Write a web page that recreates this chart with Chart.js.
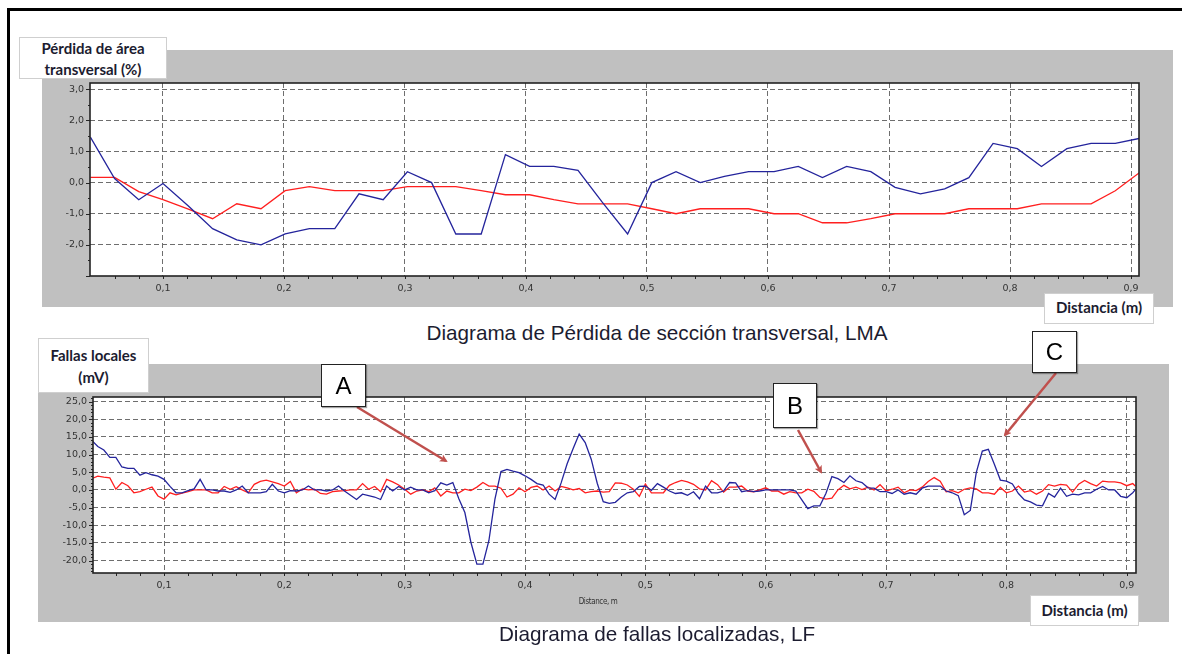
<!DOCTYPE html>
<html>
<head>
<meta charset="utf-8">
<script src="https://cdn.jsdelivr.net/npm/chart.js@4.4.1/dist/chart.umd.min.js"></script>
<style>
  html,body{margin:0;padding:0;background:#fff;}
  body{width:1187px;height:654px;position:relative;overflow:hidden;font-family:"Liberation Sans",Arial,sans-serif;}
  .abs{position:absolute;}
  canvas{position:absolute;}
  .lbl{position:absolute;background:#fff;border:1px solid #cfcfcf;box-sizing:border-box;color:#1c1c30;
       font-family:Lato,"Open Sans",sans-serif;font-weight:700;font-size:15px;text-align:center;z-index:5;white-space:nowrap;}
  .cap{position:absolute;color:#1c1c30;font-family:"Liberation Sans",Arial,sans-serif;font-size:20.7px;line-height:24px;white-space:nowrap;transform:translateX(-50%);z-index:5;}
  .mk{position:absolute;background:#fff;border:1.5px solid #222;box-sizing:border-box;font-family:"Liberation Sans",Arial,sans-serif;
      font-size:24px;text-align:center;z-index:7;box-shadow:1px 1px 1px rgba(0,0,0,0.35);}
</style>
</head>
<body>
<div class="abs" style="left:8px;top:8px;width:1174px;height:3px;background:#000;"></div>
<div class="abs" style="left:7px;top:8px;width:3px;height:646px;background:#000;"></div>

<canvas id="c1" width="1131" height="257" style="left:42px;top:50px;"></canvas>
<canvas id="c2" width="1131" height="258" style="left:38px;top:364px;"></canvas>

<div class="lbl" style="left:19px;top:37px;width:148px;height:42px;line-height:21px;padding-top:0px;">Pérdida de área<br>transversal (%)</div>
<div class="lbl" style="left:1044px;top:293px;width:110px;height:31px;line-height:26px;">Distancia (m)</div>
<div class="cap" style="left:657px;top:321px;">Diagrama de Pérdida de sección transversal, LMA</div>

<div class="lbl" style="left:38px;top:338px;width:111px;height:55px;line-height:22px;padding-top:5px;">Fallas locales<br>(mV)</div>
<div class="lbl" style="left:1030px;top:595px;width:109px;height:31px;line-height:28px;">Distancia (m)</div>
<div class="abs" style="left:598px;top:597px;transform:translateX(-50%);font-family:'DejaVu Sans Condensed','DejaVu Sans',sans-serif;font-size:8px;letter-spacing:-0.4px;color:#333;z-index:5;white-space:nowrap;">Distance, m</div>
<div class="cap" style="left:657px;top:622px;">Diagrama de fallas localizadas, LF</div>

<svg class="abs" style="left:0;top:0;z-index:6;" width="1187" height="654">
  <defs>
    <marker id="ah" markerWidth="8" markerHeight="8" refX="6" refY="4" orient="auto" markerUnits="userSpaceOnUse">
      <path d="M0,0 L8,4 L0,8 L2,4 z" fill="#c0504d"/>
    </marker>
  </defs>
  <g stroke="#c0504d" stroke-width="2.5" fill="none">
    <line x1="357" y1="407" x2="446" y2="461" marker-end="url(#ah)"/>
    <line x1="798" y1="430" x2="821" y2="472" marker-end="url(#ah)"/>
    <line x1="1056" y1="373" x2="1005" y2="435" marker-end="url(#ah)"/>
  </g>
</svg>
<div class="mk" style="left:321px;top:364px;width:45px;height:43px;line-height:41px;">A</div>
<div class="mk" style="left:773px;top:383px;width:44px;height:45px;line-height:43px;">B</div>
<div class="mk" style="left:1032px;top:331px;width:45px;height:42px;line-height:40px;">C</div>

<script>
// ---------- Top chart data (LMA) ----------
const topX = [0.040,0.060,0.080,0.100,0.121,0.141,0.161,0.181,0.201,0.221,0.242,0.262,0.282,0.302,0.322,0.342,0.363,0.383,0.403,0.423,0.443,0.463,0.484,0.504,0.524,0.544,0.564,0.584,0.605,0.625,0.645,0.665,0.685,0.705,0.726,0.746,0.766,0.786,0.806,0.826,0.847,0.867,0.887,0.907];
const topBlue = [1.46,0.13,-0.55,-0.03,-0.75,-1.48,-1.84,-2.0,-1.65,-1.48,-1.48,-0.36,-0.55,0.35,0.0,-1.65,-1.65,0.9,0.52,0.52,0.39,-0.63,-1.65,0.0,0.35,0.0,0.2,0.35,0.35,0.52,0.16,0.52,0.35,-0.15,-0.36,-0.2,0.16,1.26,1.09,0.52,1.09,1.26,1.26,1.42];
const topRed = [0.17,0.17,-0.29,-0.55,-0.85,-1.16,-0.68,-0.84,-0.26,-0.13,-0.26,-0.26,-0.26,-0.13,-0.13,-0.13,-0.26,-0.39,-0.39,-0.55,-0.68,-0.68,-0.68,-0.84,-1.0,-0.84,-0.84,-0.84,-1.0,-1.0,-1.29,-1.29,-1.16,-1.0,-1.0,-1.0,-0.84,-0.84,-0.84,-0.68,-0.68,-0.68,-0.26,0.32];
const topXTicks = [0.1,0.2,0.3,0.4,0.5,0.6,0.7,0.8,0.9];
const topYTicks = [-2,-1,0,1,2,3];

// ---------- Bottom chart data (LF) ----------
const botX = [0.040,0.045,0.050,0.055,0.060,0.065,0.070,0.075,0.080,0.085,
0.090,0.095,0.100,0.105,0.110,0.115,0.120,0.125,0.130,0.135,
0.140,0.145,0.150,0.155,0.160,0.165,0.170,0.175,0.180,0.185,
0.190,0.195,0.200,0.205,0.210,0.215,0.220,0.225,0.230,0.235,
0.240,0.245,0.250,0.255,0.260,0.265,0.270,0.275,0.280,0.285,
0.290,0.295,0.300,0.305,0.310,0.315,0.320,0.325,0.330,0.335,
0.340,0.345,0.350,0.355,0.360,0.365,0.370,0.375,0.380,0.385,
0.390,0.395,0.400,0.405,0.410,0.415,0.420,0.425,0.430,0.435,
0.440,0.445,0.450,0.455,0.460,0.465,0.470,0.475,0.480,0.485,
0.490,0.495,0.500,0.505,0.510,0.515,0.520,0.525,0.530,0.535,
0.540,0.545,0.550,0.555,0.560,0.565,0.570,0.575,0.580,0.585,
0.590,0.595,0.600,0.605,0.610,0.615,0.620,0.625,0.630,0.635,
0.640,0.645,0.650,0.655,0.660,0.665,0.670,0.675,0.680,0.685,
0.690,0.695,0.700,0.705,0.710,0.715,0.720,0.725,0.730,0.735,
0.740,0.745,0.750,0.755,0.760,0.765,0.770,0.775,0.780,0.785,
0.790,0.795,0.800,0.805,0.810,0.815,0.820,0.825,0.830,0.835,
0.840,0.845,0.850,0.855,0.860,0.865,0.870,0.875,0.880,0.885,
0.890,0.895,0.900,0.905,0.907];
const botBlue = [14.0,12.3,11.3,9.2,9.2,6.5,6.1,6.1,4.2,4.9,
4.3,3.9,3.0,1.0,-0.8,-0.8,-0.2,0.3,3.0,0.0,
0.0,-0.3,-0.3,-0.7,0.0,1.1,-0.8,-0.8,-0.8,-0.5,
1.6,-0.3,-0.8,-0.2,-0.3,0.0,1.1,0.0,0.0,-0.3,
0.0,1.1,-0.3,-1.5,-2.7,-1.2,-1.6,-2.0,-2.7,1.1,
-0.3,1.0,0.0,0.8,0.0,0.0,-0.8,-0.2,2.0,1.4,
2.1,-2.5,-6.4,-14.8,-21.0,-21.0,-14.3,-2.6,5.2,5.8,
5.3,4.9,4.0,3.0,1.8,1.4,-1.2,-2.7,2.0,7.4,
11.7,15.8,13.4,8.7,1.9,-3.3,-3.8,-3.5,-2.0,-0.8,
-0.5,1.0,1.1,-0.1,1.8,0.8,-0.3,-1.0,-0.8,-1.5,
-0.5,-2.5,1.1,-0.8,-0.8,-0.3,2.1,2.0,-0.5,-0.2,
-0.5,-0.3,0.0,0.0,0.0,0.0,0.0,-0.3,-2.8,-5.3,
-4.5,-4.5,-1.0,3.8,3.2,2.1,4.0,2.6,2.1,0.6,
0.5,-0.5,-0.5,-1.0,0.0,-1.2,-0.8,-1.2,0.5,1.1,
1.1,1.1,-0.3,-0.8,-1.6,-7.0,-5.8,5.0,11.0,11.5,
7.3,2.8,2.5,1.7,-1.0,-2.8,-3.4,-4.3,-4.5,-1.0,
-2.0,0.5,-1.8,-1.2,-1.4,-0.8,-0.8,0.2,1.0,0.0,
0.0,-1.8,-2.2,-0.8,0.0];
const botRed = [3.2,3.9,3.6,3.4,0.2,2.1,1.2,-0.8,-0.5,0.2,
0.8,-1.7,-2.6,-0.8,-1.4,-0.9,-0.5,0.0,0.0,0.0,
-0.8,-0.8,1.0,0.2,0.9,0.0,-0.8,1.6,2.4,2.8,
2.3,1.8,1.1,2.4,-0.8,0.3,0.0,0.2,-1.0,-1.2,
-0.5,-0.3,-0.2,0.0,0.0,1.8,0.2,1.0,-0.5,3.0,
2.3,1.4,0.2,-1.2,-0.3,0.0,-0.5,0.6,-1.7,-0.3,
-0.8,-0.8,0.2,-0.2,0.8,2.1,1.1,1.1,0.5,-2.0,
-1.2,0.6,-0.5,0.7,1.1,0.0,1.1,-0.3,1.0,0.6,
0.0,0.4,-0.8,-0.5,-0.3,-0.6,-0.5,2.0,1.9,1.4,
0.2,-1.8,1.7,-0.8,-0.8,-0.8,1.3,2.1,2.7,2.3,
1.6,0.3,0.0,2.6,1.5,-0.6,0.8,0.8,1.1,-0.3,
-0.5,0.0,0.6,-0.3,-0.3,-1.2,-0.5,-0.8,-0.8,0.2,
-0.4,-2.1,-2.6,-2.3,0.0,1.3,0.3,0.8,0.1,0.8,
0.0,1.5,-0.3,0.2,0.8,-0.8,0.0,-0.2,0.8,2.4,
3.5,2.5,-0.5,-0.2,-0.8,0.2,0.6,0.3,-0.8,-0.8,
-1.2,0.7,-0.8,-0.3,1.1,-0.6,-0.2,-1.2,-0.3,1.5,
1.1,1.6,1.4,-0.6,1.6,2.7,1.8,1.1,2.5,2.3,
2.3,2.0,1.2,1.8,1.1];
const botXTicks = [0.1,0.2,0.3,0.4,0.5,0.6,0.7,0.8,0.9];
const botYTicks = [-20,-15,-10,-5,0,5,10,15,20,25];

const BLUE = '#24249c', RED = '#ff1f1f';

const framePlugin = {
  id: 'frame',
  beforeDraw(chart) {
    const {ctx, chartArea: a} = chart;
    ctx.save();
    ctx.fillStyle = '#c0c0c0';
    ctx.fillRect(0, 0, chart.width, chart.height);
    ctx.fillStyle = '#ffffff';
    ctx.fillRect(a.left, a.top, a.right - a.left, a.bottom - a.top);
    ctx.restore();
  },
  afterDraw(chart, args, o) {
    const {ctx, chartArea: a, scales} = chart;
    ctx.save();
    ctx.strokeStyle = '#262626';
    ctx.lineWidth = 1;
    ctx.beginPath();
    const xs = scales.x;
    for (let i = 0; ; i++) {
      const v = o.xStart + i * o.xStep;
      if (v > xs.max + 1e-9) break;
      const p = Math.round(xs.getPixelForValue(v)) + 0.5;
      ctx.moveTo(p, a.bottom); ctx.lineTo(p, a.bottom + 3);
    }
    const ys = scales.y;
    for (let i = 0; ; i++) {
      const v = o.yStart + i * o.yStep;
      if (v > ys.max + 1e-9) break;
      const p = Math.round(ys.getPixelForValue(v)) + 0.5;
      const major = Math.abs(v / o.yMajor - Math.round(v / o.yMajor)) < 1e-6;
      ctx.moveTo(a.left, p); ctx.lineTo(a.left - (major ? 4 : 2), p);
    }
    ctx.stroke();
    ctx.lineWidth = 1.6;
    ctx.strokeStyle = '#222';
    ctx.strokeRect(a.left, a.top, a.right - a.left, a.bottom - a.top);
    ctx.restore();
  }
};

function fmt(v) { return v.toFixed(1).replace('.', ','); }

function makeChart(id, xs, blue, red, xmin, xmax, ymin, ymax, xTicks, yTicks, pad, yW, xH, frameOpts) {
  return new Chart(document.getElementById(id), {
    type: 'line',
    data: {
      datasets: [
        {data: xs.map((x, i) => ({x: x, y: blue[i]})), borderColor: BLUE, borderWidth: 1.3, pointRadius: 0, tension: 0, fill: false},
        {data: xs.map((x, i) => ({x: x, y: red[i]})), borderColor: RED, borderWidth: 1.3, pointRadius: 0, tension: 0, fill: false}
      ]
    },
    options: {
      responsive: false, animation: false, devicePixelRatio: 1,
      layout: {padding: pad},
      plugins: {legend: {display: false}, tooltip: {enabled: false}, frame: frameOpts},
      scales: {
        x: {
          type: 'linear', min: xmin, max: xmax,
          afterBuildTicks(s) { s.ticks = xTicks.map(v => ({value: v})); },
          afterFit(s) { s.height = xH; },
          grid: {color: '#6e6e6e', lineWidth: 1, drawTicks: false},
          border: {display: false, dash: [5, 3]},
          ticks: {callback: v => fmt(v), autoSkip: false, maxRotation: 0, padding: 7,
                  color: '#333', font: {family: 'DejaVu Sans', size: 9.5}}
        },
        y: {
          type: 'linear', min: ymin, max: ymax,
          afterBuildTicks(s) { s.ticks = yTicks.map(v => ({value: v})); },
          afterFit(s) { s.width = yW; },
          grid: {color: '#6e6e6e', lineWidth: 1, drawTicks: false},
          border: {display: false, dash: [5, 3]},
          ticks: {callback: v => fmt(v), autoSkip: false, padding: 6,
                  color: '#333', font: {family: 'DejaVu Sans', size: 9.5}}
        }
      }
    },
    plugins: [framePlugin]
  });
}

makeChart('c1', topX, topBlue, topRed, 0.0397, 0.9066, -3, 3.2, topXTicks, topYTicks,
  {top: 33, right: 34, left: 0, bottom: 0}, 48, 31,
  {xStart: 0.06, xStep: 0.02, yStart: -3, yStep: 0.5, yMajor: 1});

makeChart('c2', botX, botBlue, botRed, 0.041, 0.9077, -23.5, 26.3, botXTicks, botYTicks,
  {top: 33, right: 33, left: 0, bottom: 0}, 55, 49,
  {xStart: 0.06, xStep: 0.02, yStart: -23, yStep: 1, yMajor: 5});
</script>
</body>
</html>
